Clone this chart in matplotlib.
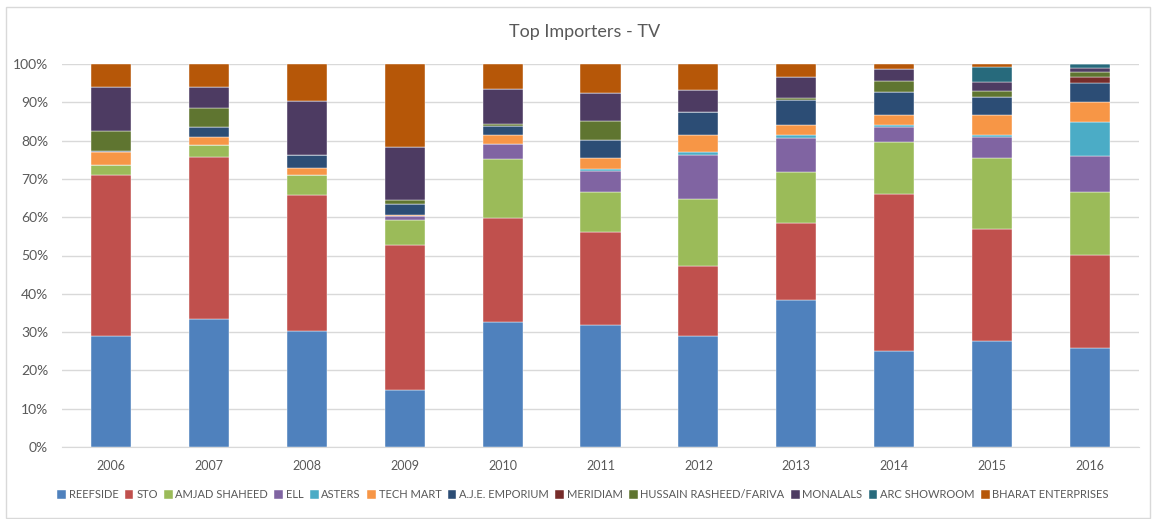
import matplotlib
matplotlib.use("Agg")
import matplotlib.pyplot as plt
from matplotlib.patches import Rectangle
from matplotlib.ticker import PercentFormatter
import numpy as np

plt.rcParams['font.family'] = ['Lato', 'DejaVu Sans']

years = ['2006', '2007', '2008', '2009', '2010', '2011', '2012', '2013', '2014', '2015', '2016']
series_names = ['REEFSIDE', 'STO', 'AMJAD SHAHEED', 'ELL', 'ASTERS', 'TECH MART',
                'A.J.E. EMPORIUM', 'MERIDIAM', 'HUSSAIN RASHEED/FARIVA', 'MONALALS',
                'ARC SHOWROOM', 'BHARAT ENTERPRISES']
colors = ['#4F81BD', '#C0504D', '#9BBB59', '#8064A2', '#4BACC6', '#F79646',
          '#2C4D75', '#772C2A', '#5F7530', '#4D3B62', '#276A7C', '#B65708']

reefside = [29.0, 33.5, 30.2, 14.9, 32.6, 31.9, 29.0, 38.4, 25.1, 27.7, 25.8]
sto      = [42.0, 42.3, 35.5, 37.8, 27.3, 24.2, 18.3, 20.1, 41.0, 29.2, 24.3]
amjad    = [2.6, 3.1, 5.2, 6.5, 15.2, 10.5, 17.5, 13.3, 13.5, 18.6, 16.5]
ell      = [0.0, 0.0, 0.0, 1.0, 4.0, 5.5, 11.4, 8.8, 4.0, 5.5, 9.3]
asters   = [0.0, 0.0, 0.0, 0.0, 0.0, 0.5, 0.7, 0.8, 0.5, 0.5, 8.9]
techmart = [3.3, 2.1, 2.0, 0.5, 2.3, 2.9, 4.5, 2.6, 2.5, 5.1, 5.4]
aje      = [0.5, 2.6, 3.3, 2.8, 2.3, 4.7, 6.0, 6.7, 6.2, 4.9, 4.9]
meridiam = [0.0, 0.0, 0.0, 0.0, 0.0, 0.0, 0.0, 0.0, 0.0, 0.0, 1.5]
hussain  = [5.1, 4.8, 0.0, 0.9, 0.6, 4.9, 0.0, 0.4, 2.7, 1.4, 1.4]
monalals = [11.4, 5.5, 14.1, 14.0, 9.3, 7.4, 5.8, 5.4, 3.3, 2.5, 1.0]
arc      = [0.0, 0.0, 0.0, 0.0, 0.0, 0.0, 0.0, 0.0, 0.0, 3.7, 1.0]
bharat   = [6.1, 6.1, 9.7, 21.6, 6.4, 7.5, 6.8, 3.5, 1.2, 0.9, 0.0]

series = [reefside, sto, amjad, ell, asters, techmart, aje, meridiam,
          hussain, monalals, arc, bharat]

data = np.array(series, dtype=float)
data = data / data.sum(axis=0) * 100.0

W, H = 1153, 519
fig = plt.figure(figsize=(W / 100, H / 100), dpi=100)

# outer chart border
fig.patches.append(Rectangle((6 / W, 1 - 518 / H), (1150 - 6) / W, (518 - 7) / H,
                             transform=fig.transFigure, fill=False,
                             edgecolor='#D9D9D9', linewidth=1.0))

ax = fig.add_axes([62 / W, 1 - 447 / H, (1139 - 62) / W, (447 - 64) / H])

x = np.arange(len(years))
bottom = np.zeros(len(years))
for name, vals, c in zip(series_names, data, colors):
    ax.bar(x, vals, 0.41, bottom=bottom, color=c, label=name,
           edgecolor='white', linewidth=0.3, zorder=3)
    bottom += vals

ax.set_xlim(-0.5, len(years) - 0.5)
ax.set_ylim(0, 100)
ax.set_yticks(np.arange(0, 101, 10))
ax.yaxis.set_major_formatter(PercentFormatter(decimals=0))
ax.set_xticks(x)
ax.set_xticklabels(years)
ax.grid(axis='y', color='#D9D9D9', linewidth=1.0, zorder=0)
for s in ['top', 'right', 'left']:
    ax.spines[s].set_visible(False)
ax.spines['bottom'].set_color('#D9D9D9')
ax.tick_params(axis='both', length=0, colors='#595959', labelsize=10)
ax.tick_params(axis='x', pad=9, labelsize=9)
ax.tick_params(axis='y', pad=10)

fig.text(585 / W, 1 - 32 / H, 'Top Importers - TV', ha='center', va='center',
         fontsize=13, color='#595959')

handles, labels = ax.get_legend_handles_labels()
leg = fig.legend(handles, labels, loc='center', bbox_to_anchor=(583 / W, 1 - 495 / H),
                 ncol=12, frameon=False, fontsize=8, handlelength=0.8,
                 handleheight=0.8, handletextpad=0.25, columnspacing=0.55,
                 labelcolor='#595959')

fig.savefig('out.png', dpi=100)
